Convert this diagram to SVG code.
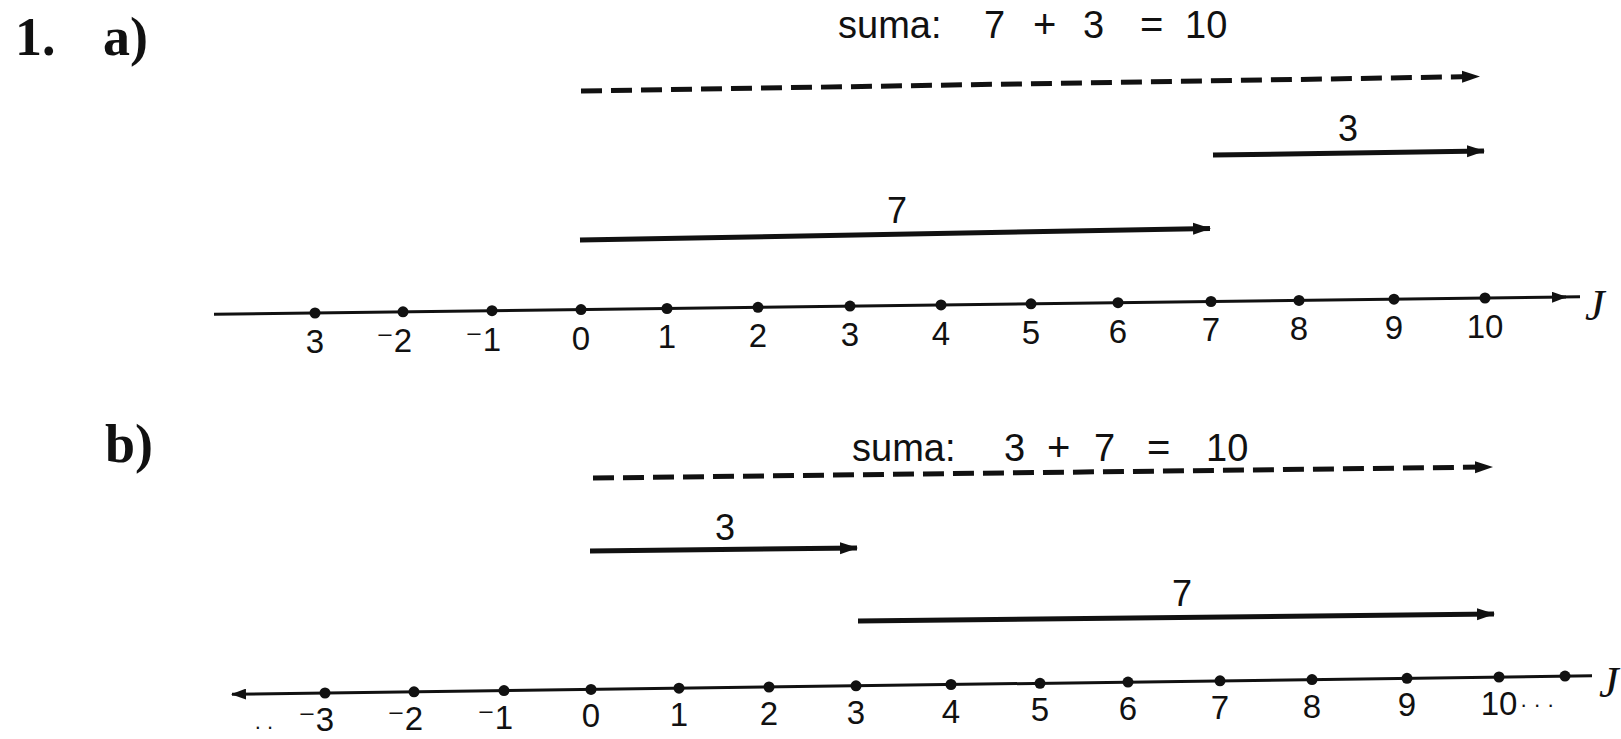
<svg xmlns="http://www.w3.org/2000/svg" width="1621" height="739" viewBox="0 0 1621 739">
<style>
.bg{fill:#fff}
.head{font-family:"Liberation Serif",serif;font-weight:bold;font-size:54px;fill:#111}
.sum{font-family:"Liberation Sans","DejaVu Sans",sans-serif;font-size:38px;fill:#111}
.op{font-size:40px}
.lab{font-family:"Liberation Sans","DejaVu Sans",sans-serif;font-size:36px;fill:#111;text-anchor:middle}
.num{font-family:"Liberation Sans","DejaVu Sans",sans-serif;font-size:33px;fill:#111;text-anchor:middle}
.neg{font-family:"Liberation Sans","DejaVu Sans",sans-serif;font-size:33px;fill:#111;text-anchor:end}
.jj{font-family:"Liberation Serif",serif;font-style:italic;font-size:44px;fill:#111}
.axis{stroke:#111;stroke-width:3;fill:none}
.vec{stroke:#111;stroke-width:5;fill:none}
.dash{stroke:#111;stroke-width:5;fill:none;stroke-dasharray:21 9}
.dot{fill:#111}
</style>
<defs>
<marker id="ah" markerUnits="userSpaceOnUse" markerWidth="18" markerHeight="14" refX="17" refY="7" orient="auto"><path d="M0,1 L18,7 L0,13 z" fill="#111"/></marker>
<marker id="ahs" markerUnits="userSpaceOnUse" markerWidth="15" markerHeight="11" refX="14" refY="5.5" orient="auto-start-reverse"><path d="M0,0 L15,5.5 L0,11 z" fill="#111"/></marker>
</defs>
<rect class="bg" x="0" y="0" width="1621" height="739"/>

<g id="title">
<text class="head" x="15" y="55">1.</text>
</g>

<!-- Part a -->
<g id="label-a"><text class="head" x="103" y="55">a)</text></g>

<g id="connectors-a">
<line id="sum-a" class="dash" x1="581" y1="91" x2="1479" y2="76.5" marker-end="url(#ah)"/>
<line id="vec3-a" class="vec" x1="1213" y1="155" x2="1484" y2="151" marker-end="url(#ah)"/>
<line id="vec7-a" class="vec" x1="580" y1="240" x2="1210" y2="228.5" marker-end="url(#ah)"/>
<line id="axis-a" class="axis" x1="214" y1="314.3" x2="1566" y2="297" marker-end="url(#ahs)"/>
<line class="axis" x1="1560" y1="297.1" x2="1580" y2="296.8" stroke-width="3.5"/>
</g>

<g id="sum-a-text"><text class="sum" y="38"><tspan x="838">suma:</tspan><tspan x="984">7</tspan><tspan class="op" x="1033">+</tspan><tspan x="1083">3</tspan><tspan class="op" x="1140">=</tspan><tspan x="1185">10</tspan></text></g>
<g id="lab3-a"><text class="lab" x="1348" y="141">3</text></g>
<g id="lab7-a"><text class="lab" x="897" y="223">7</text></g>

<g id="axis-a-points">
<circle class="dot" cx="315" cy="313" r="5.5"/>
<circle class="dot" cx="403" cy="311.8" r="5.5"/>
<circle class="dot" cx="492" cy="310.7" r="5.5"/>
<circle class="dot" cx="581" cy="309.6" r="5.5"/>
<circle class="dot" cx="667" cy="308.5" r="5.5"/>
<circle class="dot" cx="758" cy="307.3" r="5.5"/>
<circle class="dot" cx="850" cy="306.1" r="5.5"/>
<circle class="dot" cx="941" cy="304.9" r="5.5"/>
<circle class="dot" cx="1031" cy="303.8" r="5.5"/>
<circle class="dot" cx="1118" cy="302.7" r="5.5"/>
<circle class="dot" cx="1211" cy="301.5" r="5.5"/>
<circle class="dot" cx="1299" cy="300.4" r="5.5"/>
<circle class="dot" cx="1394" cy="299.2" r="5.5"/>
<circle class="dot" cx="1485" cy="298" r="5.5"/>
</g>
<g id="axis-a-labels">
<text class="num" x="315" y="353">3</text>
<text class="neg" x="412" y="352">⁻2</text>
<text class="neg" x="501" y="351">⁻1</text>
<text class="num" x="581" y="350">0</text>
<text class="num" x="667" y="348">1</text>
<text class="num" x="758" y="347">2</text>
<text class="num" x="850" y="346">3</text>
<text class="num" x="941" y="345">4</text>
<text class="num" x="1031" y="344">5</text>
<text class="num" x="1118" y="343">6</text>
<text class="num" x="1211" y="341">7</text>
<text class="num" x="1299" y="340">8</text>
<text class="num" x="1394" y="339">9</text>
<text class="num" x="1485" y="338">10</text>
<text class="jj" x="1585" y="320">J</text>
</g>

<!-- Part b -->
<g id="label-b"><text class="head" x="105" y="462">b)</text></g>

<g id="connectors-b">
<line id="sum-b" class="dash" x1="593" y1="478" x2="1492" y2="467" marker-end="url(#ah)"/>
<line id="vec3-b" class="vec" x1="590" y1="551" x2="857" y2="548" marker-end="url(#ah)" stroke-width="5.5"/>
<line id="vec7-b" class="vec" x1="858" y1="621" x2="1494" y2="614" marker-end="url(#ah)"/>
<line id="axis-b" class="axis" x1="232" y1="694.3" x2="1592" y2="675.8" marker-start="url(#ahs)"/>
</g>

<g id="sum-b-text"><text class="sum" y="461"><tspan x="852">suma:</tspan><tspan x="1004">3</tspan><tspan class="op" x="1047">+</tspan><tspan x="1094">7</tspan><tspan class="op" x="1147">=</tspan><tspan x="1206">10</tspan></text></g>
<g id="lab3-b"><text class="lab" x="725" y="540">3</text></g>
<g id="lab7-b"><text class="lab" x="1182" y="606">7</text></g>

<g id="axis-b-points">
<circle class="dot" cx="325" cy="693" r="5.5"/>
<circle class="dot" cx="414" cy="691.8" r="5.5"/>
<circle class="dot" cx="504" cy="690.6" r="5.5"/>
<circle class="dot" cx="591" cy="689.4" r="5.5"/>
<circle class="dot" cx="679" cy="688.2" r="5.5"/>
<circle class="dot" cx="769" cy="687" r="5.5"/>
<circle class="dot" cx="856" cy="685.8" r="5.5"/>
<circle class="dot" cx="951" cy="684.5" r="5.5"/>
<circle class="dot" cx="1040" cy="683.3" r="5.5"/>
<circle class="dot" cx="1128" cy="682.1" r="5.5"/>
<circle class="dot" cx="1220" cy="680.8" r="5.5"/>
<circle class="dot" cx="1312" cy="679.6" r="5.5"/>
<circle class="dot" cx="1407" cy="678.3" r="5.5"/>
<circle class="dot" cx="1499" cy="677" r="5.5"/>
<circle class="dot" cx="1565" cy="676.1" r="5.5"/>
</g>
<g id="axis-b-labels">
<text class="num" x="264" y="729" style="font-size:22px">. .</text>
<text class="neg" x="334" y="731">⁻3</text>
<text class="neg" x="423" y="730">⁻2</text>
<text class="neg" x="513" y="729">⁻1</text>
<text class="num" x="591" y="727">0</text>
<text class="num" x="679" y="726">1</text>
<text class="num" x="769" y="725">2</text>
<text class="num" x="856" y="724">3</text>
<text class="num" x="951" y="723">4</text>
<text class="num" x="1040" y="721">5</text>
<text class="num" x="1128" y="720">6</text>
<text class="num" x="1220" y="719">7</text>
<text class="num" x="1312" y="718">8</text>
<text class="num" x="1407" y="716">9</text>
<text class="num" x="1499" y="715">10</text>
<text x="1520" y="712" style="font-family:'Liberation Sans',sans-serif;font-size:22px;fill:#111">· · ·</text>
<text class="jj" x="1599" y="697">J</text>
</g>
</svg>
